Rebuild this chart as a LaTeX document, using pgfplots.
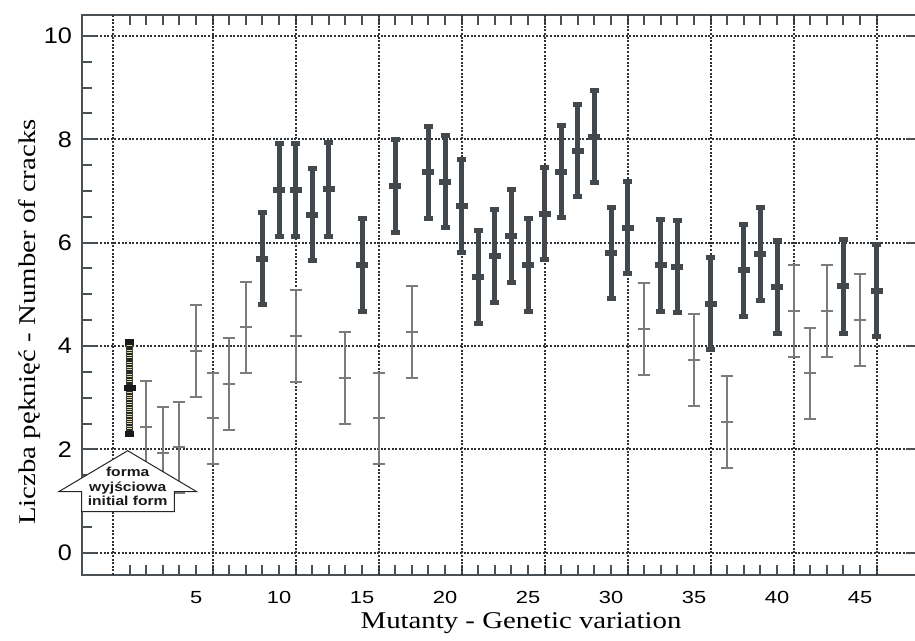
\documentclass[border=0pt]{standalone}
\usepackage{pgfplots}
\pgfplotsset{compat=1.18}
\usepackage{pgfplotstable}
\usepackage{fontspec}
\setmainfont{Liberation Serif}
\newfontfamily\tickfont[FakeStretch=1.25]{Liberation Sans}
\newfontfamily\ytickfont[FakeStretch=1.12]{Liberation Sans}
\newfontfamily\lblfont[FakeStretch=1.2]{Liberation Serif}
\newfontfamily\notefont[FakeStretch=1.2]{Liberation Sans}
\definecolor{axiscol}{HTML}{4B5055}
\definecolor{gridcol}{HTML}{2F3338}
\definecolor{darkbar}{HTML}{43484C}
\definecolor{graybar}{HTML}{7B7B7B}
\definecolor{checky}{HTML}{DCD79A}

% x = mutant number, m = mean, e = half range
\pgfplotstableread{
x  m    e
9  5.69 0.89
10 7.02 0.895
11 7.02 0.895
12 6.54 0.895
13 7.03 0.905
15 5.57 0.895
17 7.10 0.895
19 7.36 0.895
20 7.18 0.895
21 6.70 0.90
22 5.34 0.895
23 5.74 0.895
24 6.13 0.895
25 5.57 0.895
26 6.56 0.895
27 7.37 0.89
28 7.78 0.895
29 8.05 0.895
30 5.80 0.89
31 6.29 0.895
33 5.56 0.89
34 5.53 0.89
36 4.82 0.89
38 5.47 0.89
39 5.78 0.895
40 5.14 0.905
44 5.16 0.91
46 5.07 0.895
}\darkdata

\pgfplotstableread{
x  m    e
2  2.43 0.89
3  1.93 0.89
4  2.04 0.88
5  3.90 0.89
6  2.60 0.885
7  3.26 0.89
8  4.36 0.885
11 4.20 0.89
14 3.39 0.89
16 2.60 0.885
18 4.27 0.885
32 4.33 0.885
35 3.73 0.89
37 2.53 0.89
41 4.67 0.89
42 3.47 0.885
43 4.67 0.89
45 4.50 0.89
}\graydata

\pgfplotstableread{
x m    e
1 3.18 0.89
}\initdata

\begin{document}
\begin{tikzpicture}
\useasboundingbox (0,0) rectangle (915pt,640pt);
\begin{axis}[
  at={(82pt,65pt)}, anchor=south west,
  width=835pt, height=560pt, scale only axis,
  xmin=-1.873, xmax=48.43, ymin=-0.432, ymax=10.406,
  axis line style={line width=2pt, color=axiscol},
  xtick={5,10,...,45}, xticklabels={5,10,15,20,25,30,35,40,45},
  minor xtick={1,...,46},
  ytick={0,2,...,10}, yticklabels={0,2,4,6,8,10},
  minor ytick={0.5,1,...,10},
  ytick pos=left,
  tick align=inside,
  major tick length=15pt, minor tick length=10pt,
  tick style={line width=2pt, color=axiscol},
  major x tick style={draw=none},
  xticklabel style={font=\tickfont\fontsize{17.5}{20}\selectfont, inner sep=0pt, yshift=-16pt, text=black},
  yticklabel style={font=\ytickfont\fontsize{22.5}{26}\selectfont, inner sep=0pt, xshift=-10pt, text=black},
  ymajorgrids=true,
  extra x ticks={0,6,11,16,21,26,31,36,41,46},
  extra x tick labels={},
  extra x tick style={grid=major},
  major grid style={line width=1.8pt, color=gridcol, dash pattern=on 2pt off 1.6pt},
]
% gray series
\addplot[only marks, color=graybar, mark=-, mark size=6pt, mark options={line width=2pt, color=graybar},
  error bars/.cd, y dir=both, y explicit,
  error bar style={line width=2pt, color=graybar},
  error mark=-, error mark options={rotate=90, mark size=6pt, line width=2pt, color=graybar}]
  table[x=x, y=m, y error=e] {\graydata};
% dark series
\addplot[only marks, color=darkbar, mark=-, mark size=6pt, mark options={line width=6pt, color=darkbar},
  error bars/.cd, y dir=both, y explicit,
  error bar style={line width=5pt, color=darkbar},
  error mark=-, error mark options={rotate=90, mark size=4.5pt, line width=5pt, color=darkbar}]
  table[x=x, y=m, y error=e] {\darkdata};
% initial form
\addplot[only marks, mark=none, draw=none,
  error bars/.cd, y dir=both, y explicit,
  error bar style={line width=7pt, color=black!75},
  error mark=-, error mark options={rotate=90, mark size=4.7pt, line width=6pt, color=black!90}]
  table[x=x, y=m, y error=e] {\initdata};
\addplot[only marks, mark=none, draw=none,
  error bars/.cd, y dir=both, y explicit,
  error bar style={line width=5pt, color=checky},
  error mark=none]
  table[x=x, y=m, y error expr=\thisrow{e}-0.06] {\initdata};
\addplot[only marks, mark=none, draw=none,
  error bars/.cd, y dir=both, y explicit,
  error bar style={line width=5pt, color=black!85, dash pattern=on 1.5pt off 0.9pt},
  error mark=none]
  table[x=x, y=m, y error expr=\thisrow{e}-0.06] {\initdata};
\addplot[only marks, mark=-, mark size=6pt, mark options={line width=6pt, color=black!90}]
  table[x=x, y=m] {\initdata};
\end{axis}
% right-hand stubs
\foreach \v in {0,2,...,10}
  \draw[line width=2pt, axiscol] (906pt,{87.3pt+51.67pt*\v}) -- (915pt,{87.3pt+51.67pt*\v});
% annotation arrow
\draw[line width=1pt, draw=black!85, fill=white, line join=miter]
  (127.7pt,189.3pt) -- (196.7pt,148.3pt) -- (174.3pt,148.3pt) -- (174.3pt,128.3pt)
  -- (81.5pt,128.3pt) -- (81.5pt,148.3pt) -- (58.7pt,148.3pt) -- cycle;
\node[align=center, inner sep=0pt, font=\notefont\bfseries\fontsize{13}{14.5}\selectfont, text=black!90]
  at (127.7pt,153.5pt) {forma\\wyjściowa\\initial form};
% axis titles
\node[rotate=90, inner sep=0pt, font=\lblfont\fontsize{24}{28}\selectfont] at (30pt,318pt) {Liczba pęknięć - Number of cracks};
\node[inner sep=0pt, font=\lblfont\fontsize{24}{28}\selectfont] at (521pt,17pt) {Mutanty - Genetic variation};
\end{tikzpicture}
\end{document}
